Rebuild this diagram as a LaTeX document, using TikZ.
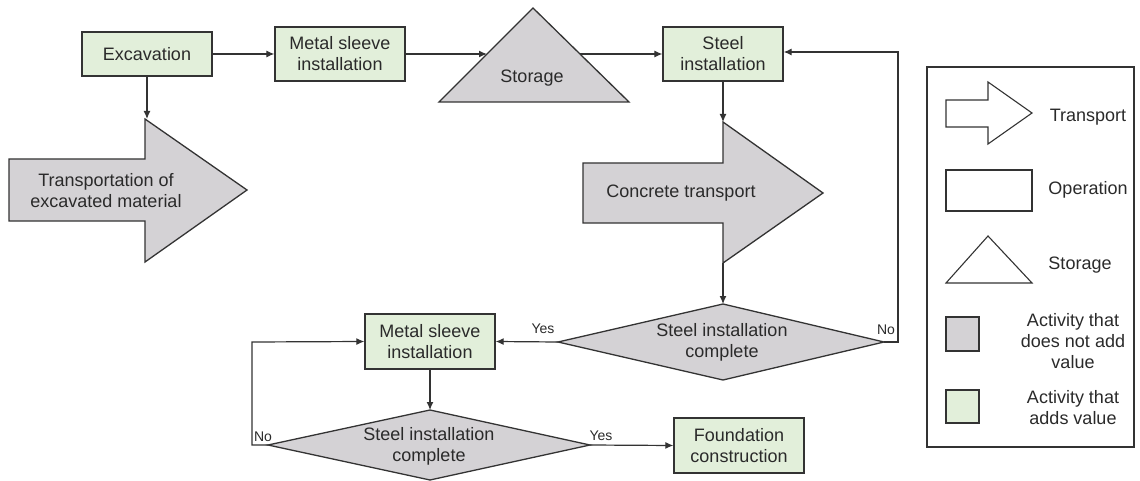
\documentclass[tikz,border=0pt]{standalone}
\usepackage{fontspec}
\setmainfont{Liberation Sans}
\usetikzlibrary{arrows.meta}
\definecolor{gfill}{HTML}{E2EFDA}
\definecolor{sfill}{HTML}{D4D2D5}
\definecolor{ln}{HTML}{333333}
\definecolor{tx}{HTML}{2A2A2A}
\begin{document}
\begin{tikzpicture}[x=1pt,y=-1pt,
  op/.style={draw=ln,line width=1.3pt,fill=gfill,inner sep=0pt,align=center,
    font=\fontsize{18}{21}\selectfont,text=tx},
  shp/.style={draw=ln,line width=1.3pt,fill=sfill,line join=miter},
  leg/.style={draw=ln,line width=1.1pt,fill=white,line join=miter},
  lbl/.style={font=\fontsize{18}{21}\selectfont,align=center,text=tx,inner sep=0pt},
  small/.style={font=\fontsize{14}{16}\selectfont,text=tx,inner sep=0pt},
  conn/.style={draw=ln,line width=1.2pt,-{Latex[length=8pt,width=7pt]}},
  plain/.style={draw=ln,line width=1.2pt}]
\useasboundingbox (0,0) rectangle (1140,481);

% operation boxes
\node[op,minimum width=130pt,minimum height=44pt] (exc) at (147,54) {Excavation};
\node[op,minimum width=130pt,minimum height=54pt] (ms1) at (340,54) {Metal sleeve\\installation};
\node[op,minimum width=120pt,minimum height=54pt] (steel) at (723,54) {Steel\\installation};
\node[op,minimum width=130pt,minimum height=55pt] (ms2) at (430,341.5) {Metal sleeve\\installation};
\node[op,minimum width=130pt,minimum height=55pt] (found) at (739,445.5) {Foundation\\construction};

% storage triangle
\draw[shp] (439,102) -- (533,8) -- (629,102) -- cycle;
\node[lbl] (stor) at (532,78) {Storage};
\coordinate (stL) at (487,54);
\coordinate (stR) at (580,54);

% transport of excavated material
\draw[shp] (9,159) -- (145,159) -- (145,119) -- (247,190) -- (145,262) -- (145,221) -- (9,221) -- cycle;
\node[lbl] (trans) at (106,191) {Transportation of\\excavated material};
\coordinate (trT) at (147,119);

% concrete transport
\draw[shp] (583,163) -- (723,163) -- (723,122) -- (823,193) -- (723,263) -- (723,223) -- (583,223) -- cycle;
\node[lbl] (conc) at (681,193) {Concrete transport};
\coordinate (ccT) at (723,122);
\coordinate (ccB) at (723,263);

% decision diamonds
\draw[shp] (558,342) -- (723,304) -- (884,342) -- (723,380) -- cycle;
\node[lbl] (d1) at (722,342) {Steel installation\\complete};
\coordinate (d1L) at (558,342);
\coordinate (d1R) at (884,342);
\coordinate (d1T) at (723,304);

\draw[shp] (268,445) -- (430,410) -- (590,445) -- (430,480) -- cycle;
\node[lbl] (d2) at (429,446) {Steel installation\\complete};
\coordinate (d2L) at (268,445);
\coordinate (d2R) at (590,445);
\coordinate (d2T) at (430,410);

% connectors
\draw[conn] (exc.east) -- (ms1.west);
\draw[conn] (exc.south) -- (trT);
\draw[conn] (ms1.east) -- (stL);
\draw[conn] (stR) -- (steel.west);
\draw[conn] (steel.south) -- (ccT);
\draw[conn] (ccB) -- (d1T);
\draw[conn] (d1L) -- (ms2.east);
\draw[conn] (d1R) -- (898,342) -- (898,52) -- (steel.east |- 0,52);
\draw[conn] (ms2.south) -- (d2T);
\draw[conn] (d2L) -- (252,445) -- (252,342) -- (ms2.west);
\draw[conn] (d2R) -- (found.west);

\node[small] (y1) at (543,329) {Yes};
\node[small] (n1) at (886,330) {No};
\node[small] (n2) at (263,437) {No};
\node[small] (y2) at (601,436) {Yes};

% legend
\draw[draw=ln,line width=1.1pt] (927,67) rectangle (1134,447);
\draw[leg] (946,100) -- (988,100) -- (988,82) -- (1032,113) -- (988,144) -- (988,127) -- (946,127) -- cycle;
\node[lbl] (lt) at (1088,117) {Transport};
\draw[leg] (946,170) rectangle (1032,211);
\node[lbl] (lo) at (1088,190) {Operation};
\draw[leg] (946,283) -- (988,236) -- (1032,283) -- cycle;
\node[lbl] (ls) at (1080,265) {Storage};
\draw[leg,fill=sfill] (946,317) rectangle (979,351);
\node[lbl] (la) at (1073,341) {Activity that\\does not add\\value};
\draw[leg,fill=gfill] (946,390) rectangle (979,423);
\node[lbl] (lb) at (1073,408) {Activity that\\adds value};
\end{tikzpicture}
\end{document}
